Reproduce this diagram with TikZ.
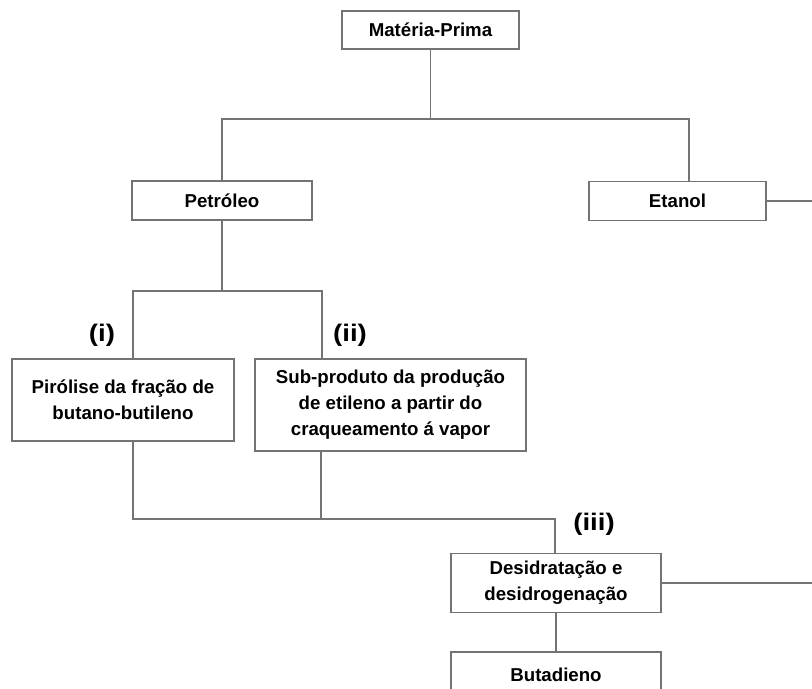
\documentclass[tikz,border=0pt]{standalone}
\usepackage{fontspec}
\setmainfont{Liberation Sans}
\newfontfamily\tagfont[FakeStretch=1.15]{Liberation Sans}
\begin{document}
\begin{tikzpicture}[x=0.75pt, y=-0.75pt,
	box/.style={draw=black!55, line width=1.2pt, fill=white, inner sep=0pt, align=center,
		font=\fontsize{14}{19.5}\selectfont\bfseries},
	tag/.style={inner sep=0pt, font=\tagfont\fontsize{18}{20}\selectfont\bfseries},
	wire/.style={draw=black!55, line width=1.1pt}]
	\useasboundingbox (0,0) rectangle (812,688);
	\clip (0,0) rectangle (812,688);
	% boxes
	\node[box, minimum width=132.75pt, minimum height=28.5pt] (mp) at (430.5,30) {Matéria-Prima};
	\node[box, minimum width=135pt, minimum height=29.25pt] (pet) at (222,200.5) {Petróleo};
	\node[box, minimum width=132.75pt, minimum height=29.25pt] (et) at (677.5,201) {Etanol};
	\node[box, minimum width=166.5pt, minimum height=61.5pt] (pir) at (123,400)
		{Pirólise da fração de\\butano-butileno};
	\node[box, minimum width=203.25pt, minimum height=69pt] (sub) at (390.5,405)
		{Sub-produto da produção\\de etileno a partir do\\craqueamento á vapor};
	\node[box, minimum width=157.5pt, minimum height=44.25pt] (des) at (556,583)
		{Desidratação e\\desidrogenação};
	\node[box, minimum width=157.5pt, minimum height=34.5pt] (but) at (556,675) {Butadieno};
	% labels
	\node[tag] (l1) at (102,335) {(i)};
	\node[tag] (l2) at (350,335) {(ii)};
	\node[tag] (l3) at (594,524) {(iii)};
	% junctions
	\coordinate (etin) at (689,181);
	\coordinate (pirin) at (133,359);
	\coordinate (subin) at (322,359);
	\coordinate (pirout) at (133,441);
	\coordinate (subout) at (321,451);
	\coordinate (j3) at (321,519);
	\coordinate (desin) at (555,554);
	\coordinate (rt1) at (830,201);
	\coordinate (rt2) at (830,583);
	% connectors
	\draw[wire] (mp.south) -- (mp.south |- 0,119) coordinate (j1);
	\draw[wire] (pet.north) |- (j1);
	\draw[wire] (etin) |- (j1);
	\draw[wire] (pet.south) -- ++(0,70) coordinate (j2);
	\draw[wire] (pirin) |- (j2) -| (subin);
	\draw[wire] (pirout) |- (j3) -| (desin);
	\draw[wire] (subout) -- (j3);
	\draw[wire] (des.south) -- (but.north);
	\draw[wire] (et.east) -- (rt1);
	\draw[wire] (des.east) -- (rt2);
\end{tikzpicture}
\end{document}
